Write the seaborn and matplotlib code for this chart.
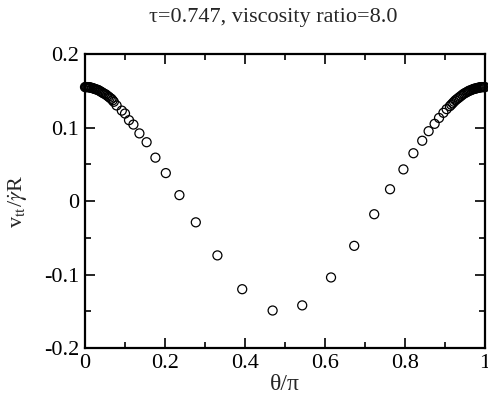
import matplotlib
matplotlib.use("Agg")
import matplotlib.pyplot as plt
import seaborn as sns
import pandas as pd
from matplotlib.ticker import MultipleLocator, FixedLocator, FixedFormatter

sns.set_style("ticks")
plt.rcParams['font.family'] = ['Liberation Serif', 'DejaVu Serif']
plt.rcParams['mathtext.fontset'] = 'stix'

# theta/pi values
theta = [0.000, 0.002, 0.004, 0.006, 0.008, 0.010, 0.012, 0.014, 0.017, 0.019,
         0.022, 0.024, 0.027, 0.030, 0.033, 0.036, 0.039, 0.042, 0.045, 0.048,
         0.052, 0.055, 0.059, 0.062, 0.066, 0.069, 0.072,
         0.079, 0.092, 0.100, 0.110, 0.121, 0.136,
         0.154, 0.176, 0.202, 0.236, 0.277, 0.331, 0.393, 0.469, 0.543, 0.615,
         0.673, 0.723, 0.7625, 0.796, 0.821, 0.843, 0.859, 0.874, 0.885, 0.896,
         0.904, 0.912, 0.9155, 0.919, 0.9225, 0.926, 0.9295, 0.933, 0.9365, 0.940,
         0.9435, 0.947, 0.9505, 0.954, 0.957, 0.960, 0.963, 0.966, 0.969, 0.972,
         0.9745, 0.977, 0.9795, 0.982, 0.9845, 0.987, 0.989, 0.991, 0.993, 0.995,
         0.9975, 1.000]
# tangential velocity v_tt / (gamma_dot R)
vtt = [0.155, 0.155, 0.155, 0.155, 0.155, 0.1548, 0.1545, 0.1543, 0.154, 0.1535,
       0.153, 0.1526, 0.152, 0.1515, 0.151, 0.150, 0.149, 0.148, 0.147, 0.146,
       0.145, 0.1435, 0.142, 0.1405, 0.139, 0.137, 0.135,
       0.130, 0.123, 0.119, 0.110, 0.104, 0.092,
       0.080, 0.059, 0.038, 0.008, -0.029, -0.074, -0.120, -0.149, -0.142, -0.104,
       -0.061, -0.018, 0.016, 0.043, 0.065, 0.082, 0.095, 0.105, 0.113, 0.120,
       0.125, 0.129, 0.131, 0.133, 0.135, 0.137, 0.1385, 0.140, 0.1415, 0.143,
       0.1445, 0.146, 0.147, 0.148, 0.149, 0.150, 0.1505, 0.151, 0.152, 0.1525,
       0.153, 0.153, 0.1535, 0.154, 0.1542, 0.1545, 0.1548, 0.155, 0.155, 0.155,
       0.155, 0.155]

xticks = [0, 0.2, 0.4, 0.6, 0.8, 1.0]
xticklabels = ["0", "0.2", "0.4", "0.6", "0.8", "1"]
yticks = [-0.2, -0.1, 0, 0.1, 0.2]
yticklabels = ["-0.2", "-0.1", "0", "0.1", "0.2"]

df = pd.DataFrame({"theta": theta, "vtt": vtt})

fig = plt.figure(figsize=(4.88, 3.96), dpi=100)
ax = fig.add_axes([0.1742, 0.1212, 0.8197, 0.7424])

sns.scatterplot(data=df, x="theta", y="vtt", ax=ax, marker="o", s=42,
                facecolor="none", edgecolor="black", linewidth=0.9, legend=False,
                clip_on=False)

ax.set_xlim(0, 1)
ax.set_ylim(-0.2, 0.2)
ax.xaxis.set_major_locator(FixedLocator(xticks))
ax.xaxis.set_major_formatter(FixedFormatter(xticklabels))
ax.yaxis.set_major_locator(FixedLocator(yticks))
ax.yaxis.set_major_formatter(FixedFormatter(yticklabels))
ax.xaxis.set_minor_locator(MultipleLocator(0.1))
ax.yaxis.set_minor_locator(MultipleLocator(0.05))
ax.tick_params(which="both", direction="in", top=True, right=True, width=1.2,
               colors="black", labelsize=16)
ax.tick_params(which="major", length=7, pad=4)
ax.tick_params(which="minor", length=4)
for sp in ax.spines.values():
    sp.set_linewidth(1.6)
    sp.set_color("black")

ax.set_xlabel("θ/π", fontsize=17)
ax.xaxis.set_label_coords(0.5, -0.09)
ax.xaxis.label.set_va("top")
ax.set_ylabel(r"v$_{\rm tt}$/$\dot{\gamma}$R", fontsize=16)
ax.yaxis.set_label_coords(-0.1375, 0.5)
fig.text(0.559, 0.944, "τ=0.747, viscosity ratio=8.0", fontsize=16,
         ha="center", va="baseline")

fig.savefig("out.png", dpi=100)
